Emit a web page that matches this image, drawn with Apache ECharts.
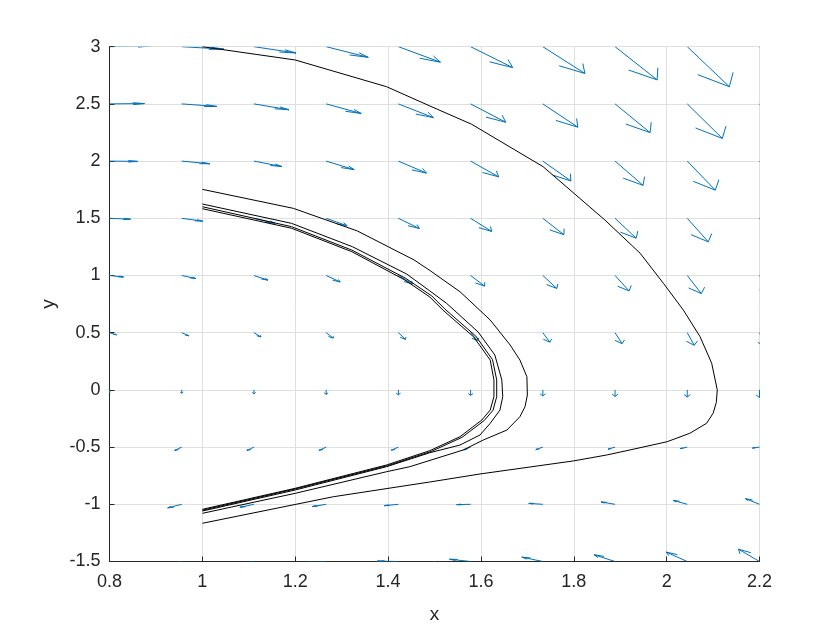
<!DOCTYPE html>
<html><head><meta charset="utf-8">
<script src="https://cdn.jsdelivr.net/npm/echarts@6/dist/echarts.min.js"></script>
<style>html,body{margin:0;padding:0;background:#fff}#c{width:840px;height:630px}</style>
</head><body><div id="c"></div>
<script>
// ---- data ----
const xTickStep = 0.2, yTickStep = 0.5;
const xRange = [0.8, 2.2];
const yRange = [-1.5, 3];

// quiver grid
const quiverX = [0.8, 0.9556, 1.1111, 1.2667, 1.4222, 1.5778, 1.7333, 1.8889, 2.0444, 2.2];
const quiverY = [-1.5, -1, -0.5, 0, 0.5, 1, 1.5, 2, 2.5, 3];
// field components per row (row = quiverY value)
const quiverU = [
  [-1.5,-1.5,-1.5,-1.5,-1.5,-1.5,-1.5,-1.5,-1.5,-1.5],
  [-1,-1,-1,-1,-1,-1,-1,-1,-1,-1],
  [-0.5,-0.5,-0.5,-0.5,-0.5,-0.5,-0.5,-0.5,-0.5,-0.5],
  [0,0,0,0,0,0,0,0,0,0],
  [0.5,0.5,0.5,0.5,0.5,0.5,0.5,0.5,0.5,0.5],
  [1,1,1,1,1,1,1,1,1,1],
  [1.5,1.5,1.5,1.5,1.5,1.5,1.5,1.5,1.5,1.5],
  [2,2,2,2,2,2,2,2,2,2],
  [2.5,2.5,2.5,2.5,2.5,2.5,2.5,2.5,2.5,2.5],
  [3,3,3,3,3,3,3,3,3,3]
];
const quiverV = [
  [-1.34,-1.09,-0.76,-0.36,0.11,0.66,1.27,1.96,2.73,3.56],
  [-1.16,-1.04,-0.88,-0.66,-0.40,-0.09,0.27,0.68,1.14,1.64],
  [-0.98,-1.00,-0.99,-0.96,-0.91,-0.83,-0.73,-0.60,-0.45,-0.28],
  [-0.80,-0.96,-1.11,-1.27,-1.42,-1.58,-1.73,-1.89,-2.04,-2.20],
  [-0.62,-0.91,-1.23,-1.57,-1.93,-2.32,-2.74,-3.17,-3.63,-4.12],
  [-0.44,-0.87,-1.35,-1.87,-2.44,-3.07,-3.74,-4.46,-5.22,-6.04],
  [-0.26,-0.83,-1.46,-2.17,-2.96,-3.81,-4.74,-5.74,-6.81,-7.96],
  [-0.08,-0.78,-1.58,-2.48,-3.47,-4.56,-5.74,-7.02,-8.40,-9.88],
  [0.10,-0.74,-1.70,-2.78,-3.98,-5.30,-6.74,-8.31,-9.99,-11.80],
  [0.28,-0.69,-1.81,-3.08,-4.49,-6.05,-7.75,-9.59,-11.58,-13.72]
];

// trajectories
const traj1X = [1.0,1.2,1.397,1.49,1.58,1.734,1.867,1.943,1.993,2.036,2.072,2.097,2.109,2.107,2.1,2.086,2.05,2.001,1.921,1.871,1.799,1.598,1.49,1.282,1.0];
const traj1Y = [3.0,2.884,2.65,2.482,2.322,1.951,1.485,1.194,0.932,0.698,0.465,0.233,0.0,-0.11,-0.205,-0.292,-0.379,-0.453,-0.525,-0.569,-0.621,-0.735,-0.805,-0.934,-1.166];
const traj2X = [1.0,1.196,1.334,1.456,1.49,1.555,1.62,1.663,1.684,1.699,1.7,1.695,1.684,1.656,1.605,1.562,1.447,1.397,1.2,1.0];
const traj2Y = [1.753,1.587,1.389,1.136,1.044,0.858,0.611,0.392,0.261,0.115,-0.045,-0.147,-0.234,-0.351,-0.438,-0.525,-0.671,-0.715,-0.904,-1.079];
const traj3X = [1.0,1.192,1.323,1.44,1.49,1.526,1.594,1.63,1.645,1.647,1.641,1.62,1.598,1.555,1.49,1.397,1.2,1.0];
const traj3Y = [1.625,1.456,1.252,1.013,0.865,0.757,0.506,0.305,0.087,-0.059,-0.176,-0.292,-0.394,-0.482,-0.549,-0.671,-0.875,-1.059];
const traj4X = [1.0,1.192,1.322,1.436,1.49,1.518,1.584,1.62,1.628,1.628,1.62,1.602,1.555,1.49,1.397,1.2,1.0];
const traj4Y = [1.584,1.413,1.208,0.961,0.812,0.698,0.465,0.261,0.087,-0.059,-0.176,-0.263,-0.409,-0.531,-0.656,-0.86,-1.044];
const traj5X = [1.0,1.192,1.322,1.438,1.494,1.522,1.589,1.625,1.634,1.634,1.626,1.607,1.559,1.493,1.399,1.2,1.0];
const traj5Y = [1.601,1.427,1.222,0.975,0.822,0.708,0.47,0.264,0.087,-0.059,-0.178,-0.268,-0.415,-0.538,-0.662,-0.866,-1.052];

// ---- build ----
const arrows = [];
quiverY.forEach((y, j) => quiverX.forEach((x, i) => arrows.push([x, y, quiverU[j][i], quiverV[j][i]])));

// MATLAB-like quiver autoscale
const nq = Math.sqrt(arrows.length);
const delx = (Math.max(...quiverX) - Math.min(...quiverX)) / nq;
const dely = (Math.max(...quiverY) - Math.min(...quiverY)) / nq;
const del = delx * delx + dely * dely;
let maxlen = 0;
arrows.forEach(a => { maxlen = Math.max(maxlen, Math.sqrt((a[2]*a[2] + a[3]*a[3]) / del)); });
const sf = 0.9 / maxlen;

const ARROW = '#0072BD';
function renderArrow(params, api) {
  const x = api.value(0), y = api.value(1);
  const u = api.value(2) * sf, v = api.value(3) * sf;
  const tx = x + u, ty = y + v;
  const a = 0.33, b = 0.33, e = 2.2e-16;
  const p1 = [tx - a * (u + b * (v + e)), ty - a * (v - b * (u + e))];
  const p3 = [tx - a * (u - b * (v + e)), ty - a * (v + b * (u - e))];
  const st = { stroke: ARROW, lineWidth: 1, fill: null };
  return {
    type: 'group',
    children: [
      { type: 'polyline', shape: { points: [api.coord([x, y]), api.coord([tx, ty])] }, style: st },
      { type: 'polyline', shape: { points: [api.coord(p1), api.coord([tx, ty]), api.coord(p3)] }, style: st }
    ]
  };
}

const FONT = 'Liberation Sans, Arial, Helvetica, sans-serif';
const TXT = '#262626';
const fmt = v => String(Math.round(v * 100) / 100);
const trajs = [[traj1X, traj1Y], [traj2X, traj2Y], [traj3X, traj3Y], [traj4X, traj4Y], [traj5X, traj5Y]];

const chart = echarts.init(document.getElementById('c'), null, { renderer: 'canvas' });
chart.setOption({
  animation: false,
  backgroundColor: '#fff',
  grid: { left: 109.5, right: 80.5, top: 46.7, bottom: 68.5, containLabel: false },
  xAxis: {
    type: 'value', min: xRange[0], max: xRange[1], interval: xTickStep,
    name: 'x', nameLocation: 'middle', nameGap: 44,
    nameTextStyle: { fontFamily: FONT, fontSize: 19, color: TXT },
    axisLine: { show: true, onZero: false, lineStyle: { color: TXT, width: 1 } },
    axisTick: { show: true, inside: true, length: 5, lineStyle: { color: TXT } },
    axisLabel: { formatter: fmt, fontFamily: FONT, fontSize: 18, color: TXT, margin: 12 },
    splitLine: { show: true, lineStyle: { color: '#dfdfdf', width: 1 } }
  },
  yAxis: {
    type: 'value', min: yRange[0], max: yRange[1], interval: yTickStep,
    name: 'y', nameLocation: 'middle', nameGap: 48, nameRotate: 90,
    nameTextStyle: { fontFamily: FONT, fontSize: 19, color: TXT },
    axisLine: { show: true, onZero: false, lineStyle: { color: TXT, width: 1 } },
    axisTick: { show: true, inside: true, length: 5, lineStyle: { color: TXT } },
    axisLabel: { formatter: fmt, fontFamily: FONT, fontSize: 18, color: TXT, margin: 9 },
    splitLine: { show: true, lineStyle: { color: '#dfdfdf', width: 1 } }
  },
  series: [
    { type: 'custom', renderItem: renderArrow, data: arrows, clip: true, z: 2, silent: true }
  ].concat(trajs.map(t => ({
    type: 'line', data: t[0].map((x, i) => [x, t[1][i]]), showSymbol: false, symbol: 'none',
    lineStyle: { color: '#000', width: 1 }, clip: true, z: 3, silent: true
  })))
});
</script>
</body></html>
